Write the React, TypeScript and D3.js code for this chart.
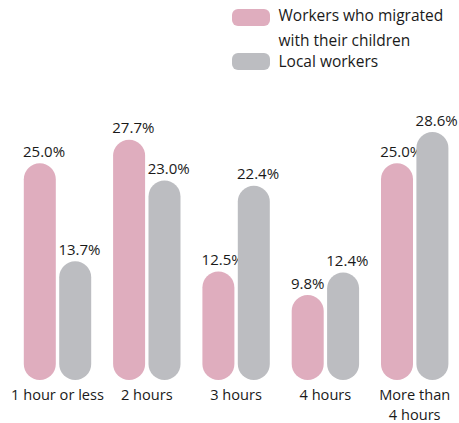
import React from "react";
import * as d3 from "d3";

const categories = ["1 hour or less", "2 hours", "3 hours", "4 hours", "More than\n4 hours"];
const migrated = [25.0, 27.7, 12.5, 9.8, 25.0];
const local = [13.7, 23.0, 22.4, 12.4, 28.6];
const seriesNames = ["Workers who migrated\nwith their children", "Local workers"];
const colors = ["#dfadbe", "#bcbdc1"];

const W = 459, H = 423;
const font = "'Open Sans', sans-serif";

export default function App() {
  const xc = d3.scalePoint<string>().domain(categories).range([57.5, 414.7]);
  const bw = 32;
  const gap = 3.4;
  const y = d3.scaleLinear().domain([0, 28.6]).range([380, 132]);
  const series = [migrated, local];

  return (
    <svg width={W} height={H} style={{ position: "absolute", left: 0, top: 0 }} fontFamily={font}>
      {seriesNames.map((name, i) => {
        const top = i === 0 ? 9 : 53;
        const lines = name.split("\n");
        return (
          <g key={name}>
            <rect x={232} y={top} width={38} height={17} rx={6} fill={colors[i]} />
            {lines.map((l, j) => (
              <text key={j} x={278.5} y={(i === 0 ? 21 : 67) + j * 24.5} fontSize={15.5} fill="#1a1a1a">{l}</text>
            ))}
          </g>
        );
      })}
      {categories.map((c, ci) => {
        const cx = xc(c)!;
        return (
          <g key={c}>
            {series.map((s, si) => {
              const v = s[ci];
              const bx = si === 0 ? cx - gap / 2 - bw : cx + gap / 2;
              const yt = y(v);
              return (
                <g key={si}>
                  <rect x={bx} y={yt} width={bw} height={y(0) - yt} rx={bw / 2} fill={colors[si]} />
                  <text x={bx - 0.8} y={yt - 6.5} fontSize={15} fill="#1a1a1a">
                    {v.toFixed(1) + "%"}
                  </text>
                </g>
              );
            })}
            {c.split("\n").map((l, j) => (
              <text key={j} x={cx} y={400 + j * 19.5} textAnchor="middle" fontSize={14.6} fill="#1a1a1a">{l}</text>
            ))}
          </g>
        );
      })}
    </svg>
  );
}
